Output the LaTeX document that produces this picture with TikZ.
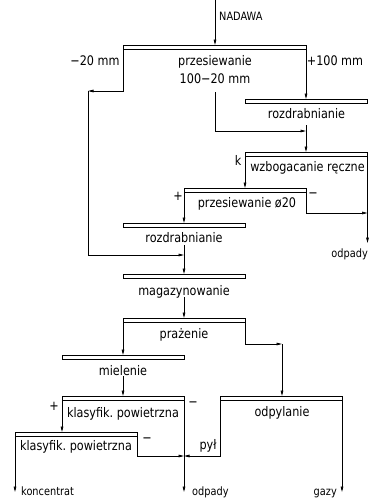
\documentclass[tikz,border=0pt]{standalone}
\usepackage{fontspec}
\usetikzlibrary{arrows.meta}
\newfontfamily\cadfont[FakeStretch=0.85]{DejaVu Sans}

% process bar: name, top-left corner, width
\newcommand\procbar[3]{%
  \node[bar, minimum width=#3] (#1) at (#2) {};
  \draw[barbase] (#1.south west) -- (#1.south east);}

\begin{document}
\begin{tikzpicture}[x=1pt,y=-1pt,
  bar/.style={draw, rectangle, line width=0.7pt, minimum height=4.5pt,
              inner sep=0pt, outer sep=0pt, anchor=north west},
  barbase/.style={line width=1.6pt},
  lbl/.style={font=\cadfont\fontsize{13.2}{15}\selectfont, inner sep=0pt, anchor=base},
  sml/.style={font=\cadfont\fontsize{11.5}{13}\selectfont, inner sep=0pt, anchor=base west},
  link/.style={line width=0.7pt},
  flow/.style={link, -{Triangle[length=5.5pt,width=2.6pt]}},
]
\useasboundingbox (0,0) rectangle (369,499);

% bars
\procbar{b1}{123,45}{183}
\procbar{b2}{245,99}{122.5}
\procbar{b3}{245,152}{122.5}
\procbar{b4}{184,188}{122}
\procbar{b5}{123,223}{122}
\procbar{b6}{123,274}{122}
\procbar{b7}{123,318}{122}
\procbar{b8}{62,355}{122}
\procbar{b9}{62,396}{122}
\procbar{b10}{220,396}{122}
\procbar{b11}{15,432}{122}

% labels
\node[sml] (tin) at (219,20) {NADAWA};
\node[lbl] (t1) at (215,65) {przesiewanie};
\node[lbl] (t1b) at (215,83) {100−20 mm};
\node[lbl] (tm20) at (95,65) {−20 mm};
\node[lbl] (tp100) at (335,65) {+100 mm};
\node[lbl] (t2) at (306.5,118) {rozdrabnianie};
\node[lbl] (t3) at (307.5,171) {wzbogacanie ręczne};
\node[lbl] (tk) at (238,165) {k};
\node[lbl] (t4) at (247,207) {przesiewanie ø20};
\node[lbl, anchor=center] (tp4) at (178,196) {+};
\node[lbl, anchor=center] (tm4) at (313,195) {−};
\node[lbl] (t5) at (184,242) {rozdrabnianie};
\node[lbl] (t6) at (184,295) {magazynowanie};
\node[lbl] (t7) at (184,338) {prażenie};
\node[lbl] (t8) at (123,375) {mielenie};
\node[lbl] (t9) at (123,417) {klasyfik.\ powietrzna};
\node[lbl, anchor=center] (tp9) at (54,406) {+};
\node[lbl, anchor=center] (tm9) at (193,404) {−};
\node[lbl] (t10) at (282,416) {odpylanie};
\node[lbl] (t11) at (76,450) {klasyfik.\ powietrzna};
\node[lbl, anchor=center] (tm11) at (147,440) {−};
\node[lbl] (tpyl) at (208,449) {pył};
\node[sml] (tkon) at (21,495) {koncentrat};
\node[sml] (todp1) at (192,495) {odpady};
\node[sml, anchor=base east] (tgaz) at (337,495) {gazy};
\node[sml, anchor=base east] (todp2) at (368,257) {odpady};

% connection points
\coordinate (in) at (215,0);
\coordinate (c1) at (88,91);
\coordinate (j1) at (184,255);
\coordinate (c2) at (215,92);
\coordinate (j2) at (306,131);
\coordinate (c3) at (306,125);
\coordinate (o1) at (367.5,243);
\coordinate (c4) at (367.5,213);
\coordinate (c5) at (184,245);
\coordinate (c6) at (184,297);
\coordinate (c7) at (282,344);
\coordinate (c8) at (123,376);
\coordinate (o2) at (184,492);
\coordinate (o3) at (15,492);
\coordinate (j3) at (184,456);
\coordinate (o4) at (342,492);

% flows
\draw[flow] (in) -- (in |- b1.north);
\draw[flow] (b1.south west) |- (c1);
\draw[flow] (c1) |- (j1);
\draw[flow] (b1.south east) -- (b1.south east |- b2.north);
\draw[flow] (c2) |- (j2);
\draw[flow] (c3) -- (c3 |- b3.north);
\draw[flow] (b3.south west) -- (b3.south west |- b4.north);
\draw[flow] (b3.south east) -- (o1);
\draw[flow] (b4.south east) |- (c4);
\draw[flow] (b4.south west) -- (b4.south west |- b5.north);
\draw[flow] (c5) -- (c5 |- b6.north);
\draw[flow] (c6) -- (c6 |- b7.north);
\draw[flow] (b7.south west) -- (b7.south west |- b8.north);
\draw[flow] (b7.south east) |- (c7);
\draw[flow] (c7) -- (c7 |- b10.north);
\draw[flow] (c8) -- (c8 |- b9.north);
\draw[flow] (b9.south west) -- (b9.south west |- b11.north);
\draw[flow] (b9.south east) -- (o2);
\draw[flow] (b11.south west) -- (o3);
\draw[flow] (b11.south east) |- (j3);
\draw[flow] (b10.south west) |- (j3);
\draw[flow] (b10.south east) -- (o4);
\end{tikzpicture}
\end{document}
